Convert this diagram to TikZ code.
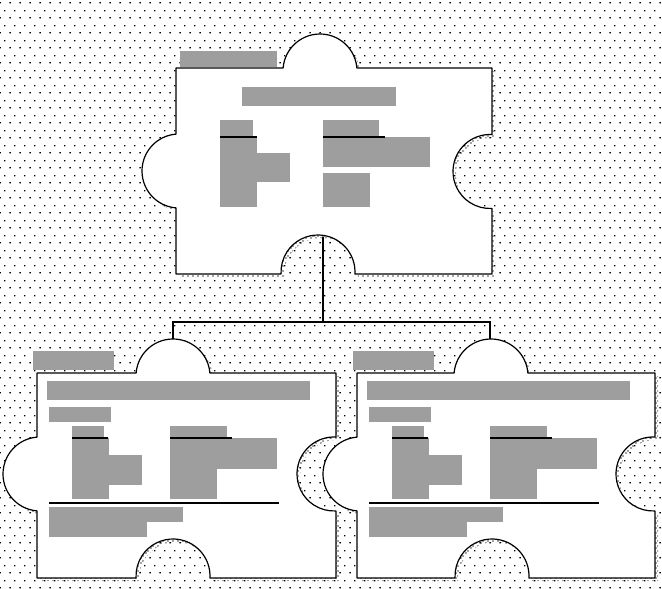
\documentclass[tikz,border=0pt]{standalone}
\usetikzlibrary{patterns}
\pgfdeclarepatternformonly{bgdots}{\pgfpoint{0pt}{0pt}}{\pgfpoint{7.5pt}{11.25pt}}{\pgfpoint{7.5pt}{11.25pt}}{%
  \pgfpathrectangle{\pgfpoint{0.4pt}{0.4pt}}{\pgfpoint{1.1pt}{1.1pt}}%
  \pgfpathrectangle{\pgfpoint{4.15pt}{6.03pt}}{\pgfpoint{1.1pt}{1.1pt}}%
  \pgfusepath{fill}}
\pgfdeclarepatternformonly{shdots}{\pgfpoint{0pt}{0pt}}{\pgfpoint{3.75pt}{3.75pt}}{\pgfpoint{3.75pt}{3.75pt}}{%
  \pgfpathrectangle{\pgfpoint{0.3pt}{0.3pt}}{\pgfpoint{1.1pt}{1.1pt}}%
  \pgfpathrectangle{\pgfpoint{2.2pt}{2.2pt}}{\pgfpoint{1.1pt}{1.1pt}}%
  \pgfusepath{fill}}
\tikzset{
  pzbody/.style={fill=white,draw=black,line width=0.9pt,line join=round},
  pzshadow/.style={pattern=shdots,pattern color=black!85},
  blk/.style={fill=black!38},
  hdrline/.style={draw=black,line width=1.5pt},
  sepline/.style={draw=black,line width=0.8pt},
  conn/.style={draw=black,line width=0.8pt}
}
% L T W H tabX notchX tabY notchY
\newcommand{\pzpiece}[8]{%
  \fill[pzshadow,shift={(3,3)}]
    ({#1},{#2}) -- ({#5-36.88},{#2})
    arc[start angle=175.35, end angle=4.65, radius=27.75pt]
    -- ({#1+#3},{#2}) -- ({#1+#3},{#8-36.95})
    arc[start angle=86.9, end angle=273.1, radius=27.75pt]
    -- ({#1+#3},{#2+#4}) -- ({#6+36.95},{#2+#4})
    arc[start angle=-3.1, end angle=183.1, radius=27.75pt]
    -- ({#1},{#2+#4}) -- ({#1},{#7+36.88})
    arc[start angle=-94.65, end angle=-265.35, radius=27.75pt]
    -- cycle;
  \filldraw[pzbody]
    ({#1},{#2}) -- ({#5-36.88},{#2})
    arc[start angle=175.35, end angle=4.65, radius=27.75pt]
    -- ({#1+#3},{#2}) -- ({#1+#3},{#8-36.95})
    arc[start angle=86.9, end angle=273.1, radius=27.75pt]
    -- ({#1+#3},{#2+#4}) -- ({#6+36.95},{#2+#4})
    arc[start angle=-3.1, end angle=183.1, radius=27.75pt]
    -- ({#1},{#2+#4}) -- ({#1},{#7+36.88})
    arc[start angle=-94.65, end angle=-265.35, radius=27.75pt]
    -- cycle;
}
% contents of a lower piece, relative to its left edge
\newcommand{\pzlower}{%
  \fill[blk] (-4,351) rectangle (77,370);
  \fill[blk] (10,381) rectangle (273,400);
  \fill[blk] (12,407) rectangle (74,422);
  \fill[blk] (35,426) rectangle (67,438);
  \fill[blk] (35,438) rectangle (72,499);
  \fill[blk] (72,455) rectangle (105,485);
  \draw[hdrline] (35,438) -- (71,438);
  \fill[blk] (133,426) rectangle (190,438);
  \fill[blk] (133,438) rectangle (240,469);
  \fill[blk] (133,469) rectangle (180,499);
  \draw[hdrline] (133,438) -- (195,438);
  \draw[sepline] (12,503) -- (242,503);
  \fill[blk] (12,507) rectangle (146,522);
  \fill[blk] (12,522) rectangle (110,537);
}
\begin{document}
\begin{tikzpicture}[x=0.75pt,y=-0.75pt]
  \useasboundingbox (0,0) rectangle (662,589);
  \fill[white] (0,0) rectangle (662,589);
  \fill[pattern=bgdots,pattern color=black] (0,0) rectangle (662,589);

  % connectors
  \coordinate (pTopNotch) at (323,237);
  \coordinate (pBar) at (323,322);
  \coordinate (pBarL) at (173,322);
  \coordinate (pBarR) at (490,322);
  \coordinate (pTabL) at (173,339);
  \coordinate (pTabR) at (490,339);
  \draw[conn] (pTopNotch) -- (pBar);
  \draw[conn] (pTabL) -- (pBarL) -- (pBarR) -- (pTabR);

  % top piece
  \pzpiece{176}{68}{316}{206}{320}{318}{171}{171.5}
  \fill[blk] (180,51) rectangle (277,67);
  \fill[blk] (242,87) rectangle (396,106);
  \fill[blk] (220,120) rectangle (253,137);
  \fill[blk] (220,137) rectangle (257,207);
  \fill[blk] (257,153) rectangle (290,182);
  \draw[hdrline] (220,137) -- (257,137);
  \fill[blk] (323,120) rectangle (379,137);
  \fill[blk] (323,137) rectangle (430,167);
  \fill[blk] (323,173) rectangle (370,207);
  \draw[hdrline] (323,137) -- (385,137);

  % lower left piece
  \pzpiece{37}{373}{299}{205}{173}{173}{474}{474}
  \begin{scope}[shift={(37,0)}]
    \pzlower
  \end{scope}

  % lower right piece
  \pzpiece{357}{373}{298}{205}{491}{492}{474}{474}
  \begin{scope}[shift={(357,0)}]
    \pzlower
  \end{scope}
\end{tikzpicture}
\end{document}
